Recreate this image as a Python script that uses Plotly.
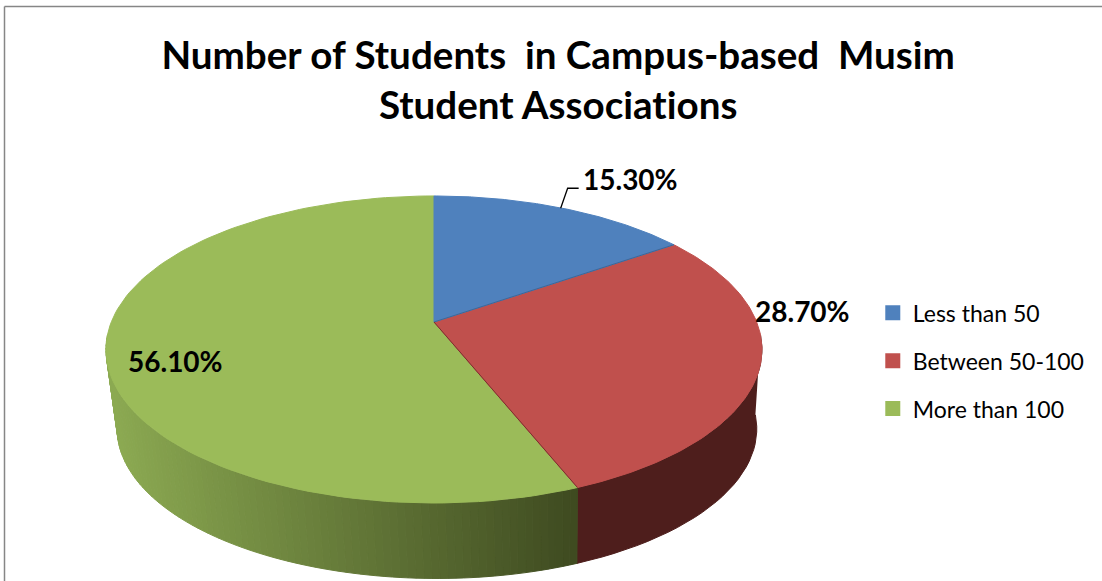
import numpy as np
import plotly.graph_objects as go

title_text = "Number of Students  in Campus-based  Musim<br>Student Associations"
categories = ["Less than 50", "Between 50-100", "More than 100"]
shares = [15.3, 28.7, 56.1]
share_labels = ["15.30%", "28.70%", "56.10%"]
top_colors = ["#4f81bd", "#c0504d", "#9bbb59"]
edge_colors = ["#3f6797", "#7a2f2d", "#7a2f2d"]

# projection of the pie (pixel space, 1102x581)
CX, CY, A, B, K = 434.0, 322.0, 322.7, 148.6, 0.179
CX_LOW, CY_LOW, SCALE_LOW = 437.0, 402.0, 0.975


def top_pt(deg):
    t = np.radians(deg)
    u, v = np.sin(t), np.cos(t)
    w = 1 + K * v
    return CX + A * u / w, CY - B * v / w


def low_pt(deg):
    t = np.radians(deg)
    u, v = np.sin(t), np.cos(t)
    w = 1 + K * v
    return CX_LOW + SCALE_LOW * A * u / w, CY_LOW - SCALE_LOW * B * v / w


total = sum(shares)
edges = np.cumsum([0] + shares) / total * 360
fig = go.Figure()


def poly(xs, ys, color, line=None):
    fig.add_trace(go.Scatter(x=xs, y=ys, mode="lines", fill="toself", fillcolor=color,
                             line=dict(color=line or color, width=1),
                             hoverinfo="skip", showlegend=False))


def mix(c0, c1, f):
    return "rgb(%d,%d,%d)" % tuple(round(a + (b - a) * f) for a, b in zip(c0, c1))


# side wall: red piece (flat) then green piece (gradient)
red_d = np.linspace(95, edges[2], 30)
xa, ya = zip(*[top_pt(d) for d in red_d])
xb, yb = zip(*[low_pt(d) for d in red_d])
poly(list(xa) + list(xb[::-1]), list(ya) + list(yb[::-1]), "#4e1e1c")

green_d = np.linspace(edges[2], 265, 91)
x_left, x_right = top_pt(262)[0], top_pt(edges[2])[0]
for d0, d1 in zip(green_d[:-1], green_d[1:]):
    p0, p1, q1, q0 = top_pt(d0), top_pt(d1), low_pt(d1), low_pt(d0)
    f = (x_right - (p0[0] + p1[0]) / 2) / (x_right - x_left)
    col = mix((62, 74, 32), (140, 170, 82), f)
    poly([p0[0], p1[0], q1[0], q0[0], p0[0]], [p0[1], p1[1], q1[1], q0[1], p0[1]], col)

# top faces
for i in [2, 1, 0]:
    deg = np.linspace(edges[i], edges[i + 1], 120)
    xs, ys = zip(*[top_pt(d) for d in deg])
    poly([CX] + list(xs) + [CX], [CY] + list(ys) + [CY], top_colors[i])

# slice separators
for i, d in enumerate(edges[1:3]):
    ex, ey = top_pt(d)
    fig.add_trace(go.Scatter(x=[CX, ex], y=[CY, ey], mode="lines",
                             line=dict(color=edge_colors[i], width=1),
                             hoverinfo="skip", showlegend=False))

# leader line of the first label
lx, ly = top_pt(edges[1] / 2)
fig.add_trace(go.Scatter(x=[lx - 2, lx + 5, lx + 16], y=[ly, ly - 20, ly - 20], mode="lines",
                         line=dict(color="#000000", width=1.3),
                         hoverinfo="skip", showlegend=False))

# legend entries
for name, col in zip(categories, top_colors):
    fig.add_trace(go.Scatter(x=[None], y=[None], mode="markers", name=name, legendgroup=name,
                             marker=dict(symbol="square", size=15, color=col)))

label_pos = [(630.5, 179), (802, 311), (175, 361)]
for txt, (x, y) in zip(share_labels, label_pos):
    fig.add_annotation(x=x, y=y, text=txt, showarrow=False, xref="x", yref="y",
                       font=dict(family="Lato", size=28, color="#000000", weight="bold"))

fig.update_layout(
    width=1102, height=581, margin=dict(l=0, r=0, t=0, b=0),
    paper_bgcolor="#ffffff", plot_bgcolor="#ffffff",
    title=dict(text=title_text, x=0.5065, xanchor="center", y=0.881, yanchor="middle",
               font=dict(family="Lato", size=38.6, color="#000000", weight="bold")),
    xaxis=dict(range=[0, 1102], visible=False, fixedrange=True),
    yaxis=dict(range=[581, 0], visible=False, fixedrange=True),
    legend=dict(x=0.792, xanchor="left", y=0.379, yanchor="middle", tracegroupgap=15,
                font=dict(family="Lato", size=23, color="#000000"), bgcolor="rgba(0,0,0,0)"),
    shapes=[
        dict(type="line", xref="x", yref="y", x0=4.5, x1=4.5, y0=6.5, y1=581,
             line=dict(color="#868686", width=1.5)),
        dict(type="line", xref="x", yref="y", x0=4.5, x1=1102, y0=6.5, y1=6.5,
             line=dict(color="#868686", width=1.5)),
    ],
)
fig.write_html("out.html", config=dict(displayModeBar=False), post_script=(
    "document.body.style.margin='0';"
    "document.body.style.overflow='hidden';"
    "var s=document.createElement('style');"
    "s.textContent='svg text{font-variant-ligatures:none !important;"
    "font-feature-settings:\"liga\" 0,\"clig\" 0 !important;}';"
    "document.head.appendChild(s);"
))
